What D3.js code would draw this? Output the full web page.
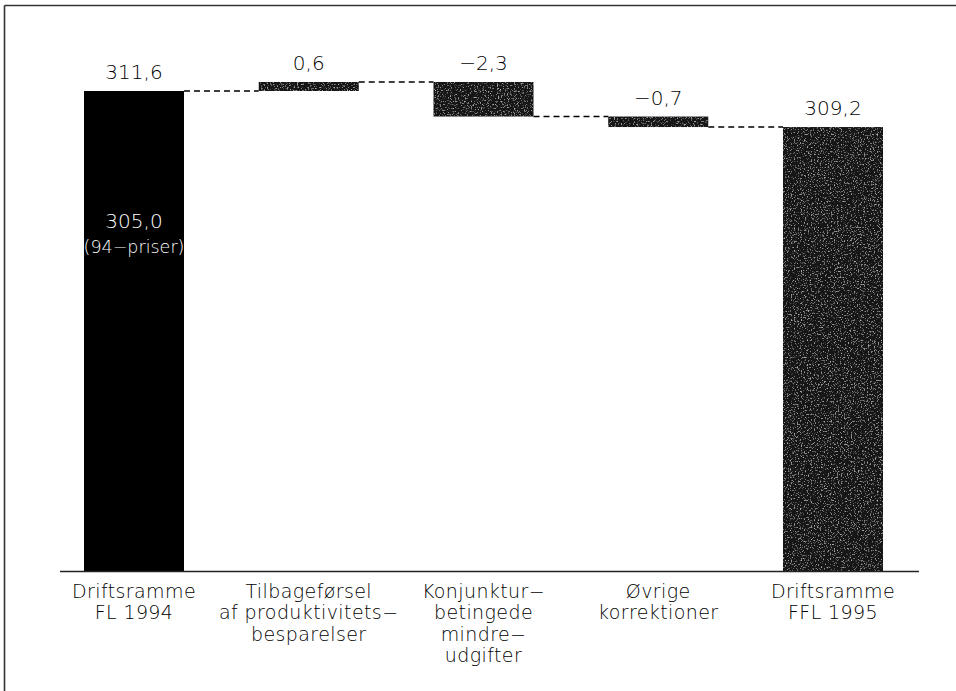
<!DOCTYPE html>
<html>
<head>
<meta charset="utf-8">
<script src="https://cdn.jsdelivr.net/npm/d3@7"></script>
<style>
  html, body { margin: 0; padding: 0; background: #fff; }
  svg text { font-family: "DejaVu Sans", sans-serif; font-weight: 300; fill: #000; }
</style>
</head>
<body>
<svg id="chart" width="956" height="691"></svg>
<script>
// chart data
const categories = ["fl94", "prod", "konj", "ovrige", "ffl95"];
const categoryLines = [
    ["Driftsramme", "FL 1994"],
    ["Tilbageførsel", "af produktivitets−", "besparelser"],
    ["Konjunktur−", "betingede", "mindre−", "udgifter"],
    ["Øvrige", "korrektioner"],
    ["Driftsramme", "FFL 1995"]
];
const values = [311.6, 0.6, -2.3, -0.7, 309.2];
const kinds = ["total", "delta", "delta", "delta", "total"];
const innerNote = ["305,0", "(94−priser)"];

const svg = d3.select("#chart");

const locale = d3.formatLocale({decimal: ",", thousands: ".", grouping: [3], currency: ["", ""], minus: "−"});
const fmt = locale.format(".1f");

// waterfall: compute start / end of each bar
let running = 0;
const bars = categories.map(function (c, i) {
    let start, end;
    if (kinds[i] === "total") {
        start = null; end = values[i];
        running = values[i];
    } else {
        start = running; end = running + values[i];
        running = end;
    }
    return {key: c, value: values[i], kind: kinds[i], start: start, end: end, lines: categoryLines[i]};
});

const x = d3.scalePoint().domain(categories).range([134, 833]);
const barW = 100;
// the chart is not drawn from zero, bottom of the axis sits at 279.6
const y = d3.scaleLinear().domain([279.6, 311.6]).range([571.5, 91]);

// scanned-looking grey texture for the other bars
const defs = svg.append("defs");
const filt = defs.append("filter").attr("id", "grain").attr("x", 0).attr("y", 0).attr("width", 1).attr("height", 1);
filt.append("feTurbulence").attr("type", "fractalNoise").attr("baseFrequency", 0.7).attr("numOctaves", 2).attr("seed", 5).attr("result", "noise");
filt.append("feColorMatrix").attr("in", "noise").attr("type", "matrix")
    .attr("values", "0 0 0 0 0.45  0 0 0 0 0.45  0 0 0 0 0.45  0 0 0 -4 1.7").attr("result", "spk");
filt.append("feComposite").attr("in", "spk").attr("in2", "SourceGraphic").attr("operator", "in").attr("result", "spk2");
filt.append("feMerge").selectAll("feMergeNode").data(["SourceGraphic", "spk2"]).enter()
    .append("feMergeNode").attr("in", d => d);

// frame (only top and left visible)
svg.append("line").attr("x1", 4.5).attr("x2", 956).attr("y1", 5.5).attr("y2", 5.5)
    .attr("stroke", "#333").attr("stroke-width", 1.6);
svg.append("line").attr("x1", 4.5).attr("x2", 4.5).attr("y1", 5.5).attr("y2", 691)
    .attr("stroke", "#333").attr("stroke-width", 1.6);

// bars
svg.selectAll("rect.bar").data(bars).enter().append("rect")
    .attr("class", "bar")
    .attr("x", d => x(d.key) - barW / 2)
    .attr("width", barW)
    .attr("y", d => d.kind === "total" ? y(d.end) : y(Math.max(d.start, d.end)))
    .attr("height", d => d.kind === "total" ? y.range()[0] - y(d.end) : Math.abs(y(d.start) - y(d.end)))
    .attr("fill", (d, i) => i === 0 ? "#000" : "#161616")
    .attr("filter", (d, i) => i === 0 ? null : "url(#grain)");

// dashed connectors
const links = bars.slice(0, -1).map((d, i) => ({from: d, to: bars[i + 1]}));
svg.selectAll("line.link").data(links).enter().append("line")
    .attr("class", "link")
    .attr("x1", d => x(d.from.key) + barW / 2)
    .attr("x2", d => x(d.to.key) - barW / 2)
    .attr("y1", d => y(d.from.end))
    .attr("y2", d => y(d.from.end))
    .attr("stroke", "#000").attr("stroke-width", 1.6)
    .attr("stroke-dasharray", "6,4");

// value labels
svg.selectAll("text.val").data(bars).enter().append("text")
    .attr("class", "val")
    .attr("x", d => x(d.key))
    .attr("y", d => (d.kind === "total" ? y(d.end) : y(Math.max(d.start, d.end))) - 12)
    .attr("text-anchor", "middle")
    .attr("font-size", 20)
    .text(d => fmt(d.value));

// note inside first bar
svg.selectAll("text.note").data(innerNote).enter().append("text")
    .attr("class", "note")
    .attr("x", x(categories[0]))
    .attr("y", (d, i) => 228 + i * 25)
    .attr("text-anchor", "middle")
    .attr("font-size", (d, i) => i === 0 ? 20 : 17.5)
    .style("fill", "#fff")
    .text(d => d);

// axis line
svg.append("line").attr("x1", 60).attr("x2", 919)
    .attr("y1", y.range()[0]).attr("y2", y.range()[0])
    .attr("stroke", "#222").attr("stroke-width", 1.5);

// category labels
const cat = svg.selectAll("text.cat").data(bars).enter().append("text")
    .attr("class", "cat")
    .attr("x", d => x(d.key))
    .attr("y", 598)
    .attr("text-anchor", "middle")
    .attr("font-size", 19)
    .attr("letter-spacing", 0.4);
cat.selectAll("tspan").data(d => d.lines.map(l => ({t: l, x: x(d.key)}))).enter().append("tspan")
    .attr("x", d => d.x)
    .attr("dy", (d, i) => i === 0 ? 0 : 21.3)
    .text(d => d.t);
</script>
</body>
</html>
